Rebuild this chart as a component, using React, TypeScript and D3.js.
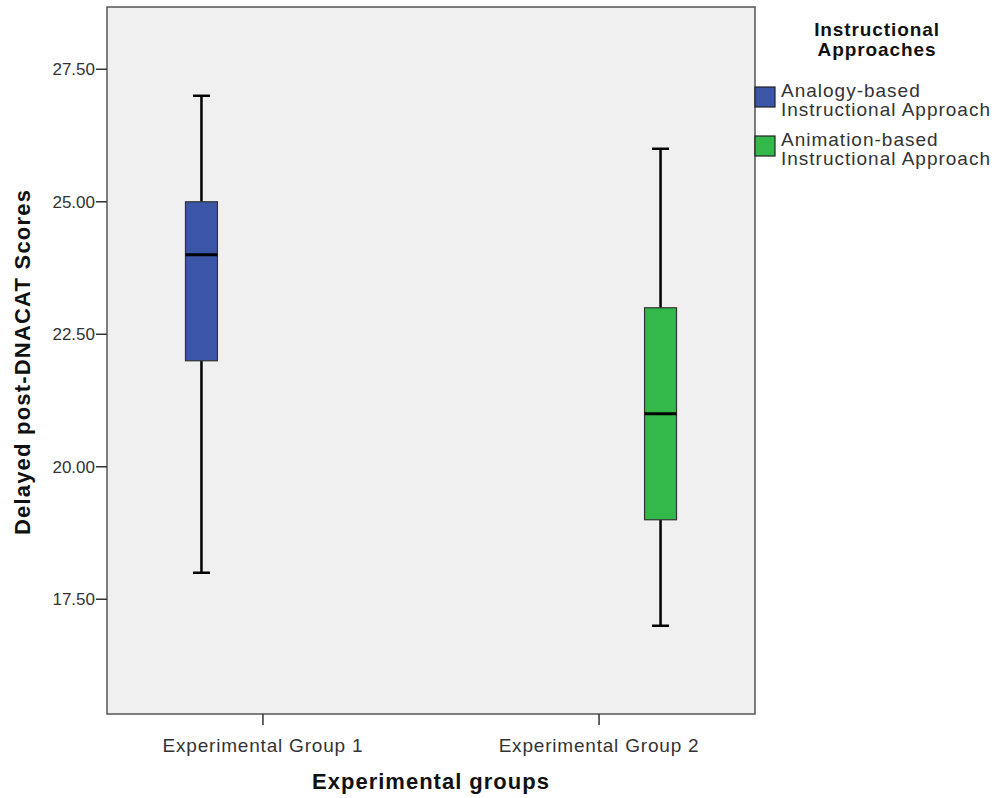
import * as d3 from "d3";

const groups = ["Experimental Group 1", "Experimental Group 2"];
const series = ["Analogy-based Instructional Approach", "Animation-based Instructional Approach"];
const seriesLines = [
  ["Analogy-based", "Instructional Approach"],
  ["Animation-based", "Instructional Approach"],
];
const colors = ["#3b56a8", "#33b84a"];
// one box per group; group 1 -> series 0, group 2 -> series 1
const boxSeries = [0, 1];
const mins = [18, 17];
const q1s = [22, 19];
const medians = [24, 21];
const q3s = [25, 23];
const maxs = [27, 26];
const yTicks = [17.5, 20, 22.5, 25, 27.5];

const W = 996;
const H = 798;
const M = { left: 107, top: 7, right: 755, bottom: 714 };

export default function App() {
  const x = d3.scalePoint().domain(groups).range([M.left, M.right]).padding(0.464);
  const half = 168;
  const sub = d3.scaleBand().domain(series).range([-half, half]).paddingInner(0.74).paddingOuter(0.736);
  const y = d3.scaleLinear().domain([15.335, 28.675]).range([M.bottom, M.top]);
  const font = "'Liberation Sans', Arial, sans-serif";

  return (
    <svg width={W} height={H} style={{ position: "absolute", left: 0, top: 0 }} fontFamily={font}>
      <rect x={0} y={0} width={W} height={H} fill="#fff" />
      <rect x={M.left} y={M.top} width={M.right - M.left} height={M.bottom - M.top} fill="#f0f0f0" stroke="#555" strokeWidth={1.5} />
      {yTicks.map((t) => (
        <g key={t}>
          <line x1={M.left - 11} x2={M.left} y1={y(t)} y2={y(t)} stroke="#333" strokeWidth={1.5} />
          <text x={M.left - 12} y={y(t)} dy="0.36em" textAnchor="end" fontSize={17} fill="#333">
            {t.toFixed(2)}
          </text>
        </g>
      ))}
      {groups.map((g) => {
        const cx = x(g) ?? 0;
        return (
          <g key={g}>
            <line x1={cx} x2={cx} y1={M.bottom} y2={M.bottom + 11} stroke="#333" strokeWidth={1.5} />
            <text x={cx} y={752} textAnchor="middle" fontSize={19} letterSpacing={0.8} fill="#333">
              {g}
            </text>
          </g>
        );
      })}
      {groups.map((g, i) => {
        const s = series[boxSeries[i]];
        const bx = (x(g) ?? 0) + (sub(s) ?? 0);
        const bw = sub.bandwidth();
        const cx = bx + bw / 2;
        const cap = 17;
        return (
          <g key={"box" + g}>
            <line x1={cx} x2={cx} y1={y(maxs[i])} y2={y(q3s[i])} stroke="#000" strokeWidth={2.5} />
            <line x1={cx} x2={cx} y1={y(q1s[i])} y2={y(mins[i])} stroke="#000" strokeWidth={2.5} />
            <line x1={cx - cap / 2} x2={cx + cap / 2} y1={y(maxs[i])} y2={y(maxs[i])} stroke="#000" strokeWidth={2.5} />
            <line x1={cx - cap / 2} x2={cx + cap / 2} y1={y(mins[i])} y2={y(mins[i])} stroke="#000" strokeWidth={2.5} />
            <rect x={bx} y={y(q3s[i])} width={bw} height={y(q1s[i]) - y(q3s[i])} fill={colors[boxSeries[i]]} stroke="#333" strokeWidth={1.2} />
            <line x1={bx} x2={bx + bw} y1={y(medians[i])} y2={y(medians[i])} stroke="#000" strokeWidth={3} />
          </g>
        );
      })}
      <text
        transform={`translate(30, ${362}) rotate(-90)`}
        textAnchor="middle"
        fontSize={22}
        letterSpacing={1.2}
        fontWeight="bold"
        fill="#111"
      >
        Delayed post-DNACAT Scores
      </text>
      <text x={431} y={789} textAnchor="middle" fontSize={22} letterSpacing={1} fontWeight="bold" fill="#111">
        Experimental groups
      </text>
      <text x={877} y={36} textAnchor="middle" fontSize={19} letterSpacing={0.9} fontWeight="bold" fill="#111">
        Instructional
      </text>
      <text x={877} y={56} textAnchor="middle" fontSize={19} letterSpacing={0.9} fontWeight="bold" fill="#111">
        Approaches
      </text>
      {series.map((s, i) => (
        <g key={s} transform={`translate(755, ${87 + i * 49})`}>
          <rect x={0} y={0} width={20} height={20} fill={colors[i]} stroke="#222" strokeWidth={1.2} />
          {seriesLines[i].map((ln, j) => (
            <text key={j} x={26} y={10 + j * 19} fontSize={19} letterSpacing={1} fill="#333">
              {ln}
            </text>
          ))}
        </g>
      ))}
    </svg>
  );
}
